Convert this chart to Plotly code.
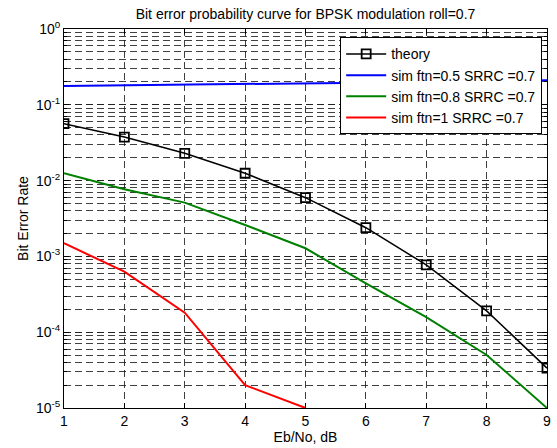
import plotly.graph_objects as go

ebno = [1, 2, 3, 4, 5, 6, 7, 8, 9]
theory = [0.0563, 0.0375, 0.0229, 0.0125, 0.00595, 0.00239, 0.000773, 0.000191, 3.36e-5]
sim_05 = [0.177, 0.180, 0.183, 0.187, 0.191, 0.196, 0.201, 0.206, 0.211]
sim_08 = [0.0125, 0.00767, 0.00512, 0.0026, 0.00128, 0.00044, 0.000158, 5.0e-5, 1.0e-5]
ebno_r = [1, 2, 3, 4, 5]
sim_1 = [0.00149, 0.00063, 0.000181, 2.0e-5, 1.0e-5]

ytick_vals = [1e-5, 1e-4, 1e-3, 1e-2, 1e-1, 1]
ytick_text = ["10<sup>-5</sup>", "10<sup>-4</sup>", "10<sup>-3</sup>",
              "10<sup>-2</sup>", "10<sup>-1</sup>", "10<sup>0</sup>"]

font = "Liberation Sans, Arial, sans-serif"
gridc = "rgba(30,30,30,0.85)"
dash = "7px,4px"

fig = go.Figure()
fig.add_trace(go.Scatter(x=ebno, y=theory, mode="lines+markers", name="theory",
                         line=dict(color="black", width=1.5),
                         marker=dict(symbol="square-open", size=9, color="black",
                                     line=dict(width=1.8, color="black"))))
fig.add_trace(go.Scatter(x=ebno, y=sim_05, mode="lines", name="sim ftn=0.5 SRRC =0.7",
                         line=dict(color="#0000ff", width=2)))
fig.add_trace(go.Scatter(x=ebno, y=sim_08, mode="lines", name="sim ftn=0.8 SRRC =0.7",
                         line=dict(color="#008000", width=2)))
fig.add_trace(go.Scatter(x=ebno_r, y=sim_1, mode="lines", name="sim ftn=1 SRRC =0.7",
                         line=dict(color="#ff0000", width=2)))

fig.update_layout(
    width=557, height=448,
    margin=dict(l=64, r=6, t=29, b=40),
    paper_bgcolor="white", plot_bgcolor="white",
    font=dict(family=font, size=14, color="black"),
    title=dict(text="Bit error probability curve for BPSK modulation roll=0.7",
               x=0.5, xref="paper", y=0.968, yanchor="middle",
               font=dict(size=14, family=font, color="black")),
    showlegend=True,
    legend=dict(x=0.99, y=0.978, xanchor="right", yanchor="top",
                bgcolor="white", bordercolor="black", borderwidth=1,
                font=dict(size=14, family=font), tracegroupgap=0,
                itemwidth=40),
)

fig.update_xaxes(
    range=[1, 9], tickvals=ebno, ticks="inside", ticklen=5, tickcolor="black",
    showline=True, linecolor="black", linewidth=1, mirror="ticks",
    showgrid=True, gridcolor=gridc, griddash=dash, gridwidth=1,
    zeroline=False, title=dict(text="Eb/No, dB", standoff=2, font=dict(size=14)),
    tickfont=dict(size=14),
)
fig.update_yaxes(
    type="log", range=[-5, 0], tickvals=ytick_vals, ticktext=ytick_text,
    ticks="inside", ticklen=5, tickcolor="black",
    showline=True, linecolor="black", linewidth=1, mirror="ticks",
    showgrid=True, gridcolor=gridc, griddash=dash, gridwidth=1,
    minor=dict(showgrid=True, gridcolor=gridc, griddash=dash, gridwidth=1,
               ticks="inside", ticklen=3, tickcolor="black", dtick="D1"),
    zeroline=False, title=dict(text="Bit Error Rate", standoff=4, font=dict(size=14)),
    tickfont=dict(size=14),
)

fig.write_html("out.html", config={"displayModeBar": False},
               post_script="document.body.style.margin='0';")
